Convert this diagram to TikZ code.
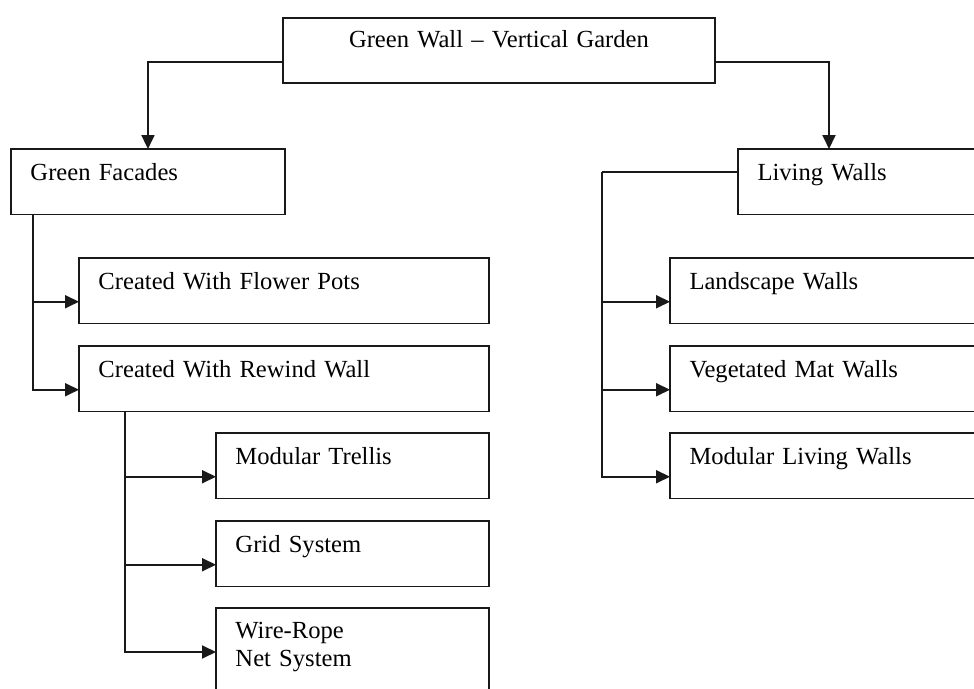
\documentclass[tikz,border=0pt]{standalone}
\usepackage{fontspec}
\setmainfont{Liberation Serif}
\definecolor{LineDark}{RGB}{25, 25, 25}
\usepackage{tikz}
\usetikzlibrary{arrows.meta, positioning, calc}

\begin{document}
\begin{tikzpicture}[x=0.02cm, y=-0.02cm,
        font=\fontsize{14}{15.5}\selectfont,
        box/.style={draw=LineDark, line width=1.1pt, anchor=north west, outer sep=0pt,
            inner ysep=0pt, inner xsep=0.39cm, text height=0.63cm, text depth=0.68cm, align=left},
        arr/.style={draw=LineDark, line width=1.1pt, -{Triangle[length=0.28cm, width=0.26cm]}},
        bus/.style={draw=LineDark, line width=1.1pt}]
        % Page
        \useasboundingbox (0,0) rectangle (974,689);
        \clip (0,0) rectangle (974,689);

        % Top
        \node[box, align=center, inner xsep=0pt, text width=8.64cm, text height=0.6cm, text depth=0.7cm]
            (top) at (283,18) {Green Wall -- Vertical Garden};

        % Main branches
        \node[box, text width=4.7cm] (gf) at (11,149) {Green Facades};
        \node[box, text width=6.0cm] (lw) at (738,149) {Living Walls};

        % Green facades
        \node[box, text width=7.42cm] (fp) at (79,258) {Created With Flower Pots};
        \node[box, text width=7.42cm] (rw) at (79,346) {Created With Rewind Wall};

        % Rewind wall
        \node[box, text width=4.68cm] (mt) at (216,433) {Modular Trellis};
        \node[box, text width=4.68cm] (gs) at (216,521) {Grid System};
        \node[box, text width=4.68cm, text height=0.62cm, text depth=2cm] (wr) at (216,608) {Wire-Rope\\Net System};

        % Living walls
        \node[box, text width=6.6cm] (ls) at (670,258) {Landscape Walls};
        \node[box, text width=6.6cm] (vm) at (670,346) {Vegetated Mat Walls};
        \node[box, text width=6.6cm] (ml) at (670,433) {Modular Living Walls};

        % Top to branches
        \draw[arr] ($(top.north west)+(0,44)$) -| (gf.north);
        \draw[arr] ($(top.north east)+(0,44)$) -| ($(lw.north west)+(91,0)$);

        % Green facades bus
        \coordinate (gfbus) at ($(gf.south west)+(22,0)$);
        \draw[arr] (gfbus) |- ($(fp.west)+(0,11)$);
        \draw[arr] (gfbus) |- ($(rw.west)+(0,11)$);

        % Rewind wall bus
        \coordinate (rwbus) at ($(rw.south west)+(46,0)$);
        \draw[arr] (rwbus) |- ($(mt.west)+(0,11)$);
        \draw[arr] (rwbus) |- ($(gs.west)+(0,11)$);
        \draw[arr] (rwbus) |- ($(wr.north west)+(0,44)$);

        % Living walls bus
        \coordinate (lwbus) at ($(lw.north west)+(-136,23)$);
        \draw[bus] ($(lw.north west)+(0,23)$) -- (lwbus);
        \draw[arr] (lwbus) |- ($(ls.west)+(0,11)$);
        \draw[arr] (lwbus) |- ($(vm.west)+(0,11)$);
        \draw[arr] (lwbus) |- ($(ml.west)+(0,11)$);
    \end{tikzpicture}
\end{document}
